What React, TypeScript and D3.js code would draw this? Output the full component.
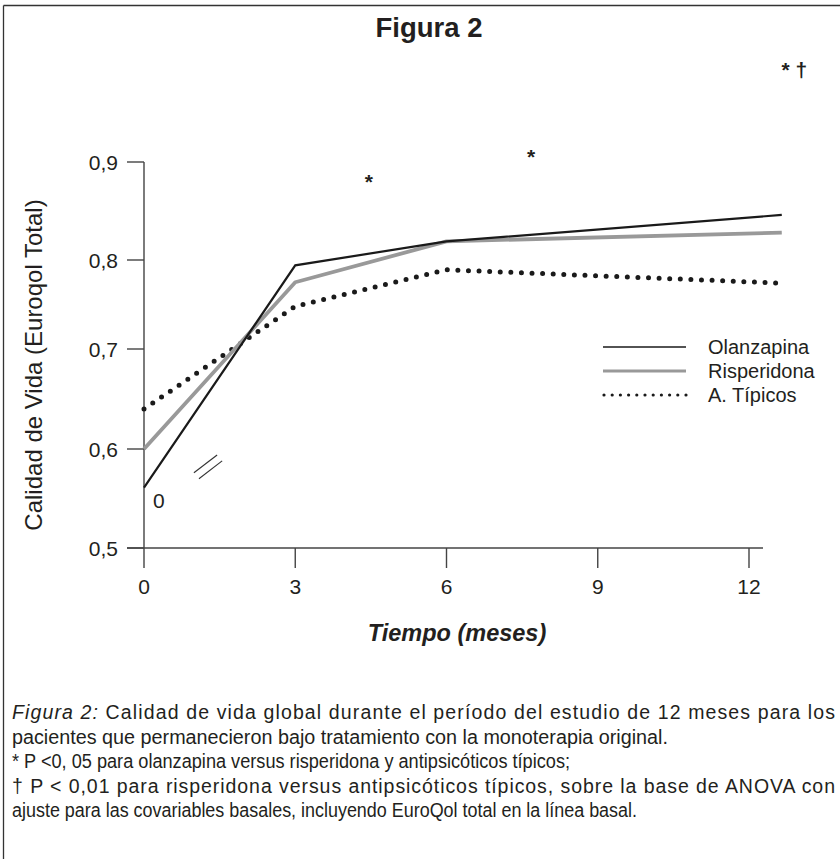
import React from "react";
import * as d3 from "d3";

const months = [0, 3, 6, 12.65];
const olanzapina = [0.561, 0.794, 0.819, 0.846];
const risperidona = [0.6, 0.775, 0.819, 0.828];
const tipicos = [0.64, 0.748, 0.789, 0.774];

const xTicks = [0, 3, 6, 9, 12];
const yTicks = [0.5, 0.6, 0.7, 0.8, 0.9];
const yTickLabels = ["0,5", "0,6", "0,7", "0,8", "0,9"];

const seriesNames = ["Olanzapina", "Risperidona", "A. Típicos"];

// annotations: [month, value]
const starMarks: [number, number, string][] = [
  [4.46, 0.872, "*"],
  [7.68, 0.898, "*"],
  [12.9, 0.987, "* †"],
];
const breakMarks: [number, number, number, number][] = [
  [0.99, 0.576, 1.45, 0.594],
  [1.09, 0.57, 1.55, 0.588],
];
const originLabel: [number, number, string] = [0.18, 0.54, "0"];

const captionLines = [
  "pacientes que permanecieron bajo tratamiento con la monoterapia original.",
  "* P <0, 05 para olanzapina versus risperidona y antipsicóticos típicos;",
  "† P < 0,01 para risperidona versus antipsicóticos típicos, sobre la base de ANOVA con",
  "ajuste para las covariables basales, incluyendo EuroQol total en la línea basal.",
];
const captionWidths = [656, 558, 823, 625];

const FONT = "'Liberation Sans', Arial, Helvetica, sans-serif";

export default function App() {
  const W = 840;
  const H = 859;
  const x = d3.scaleLinear().domain([0, 12]).range([144, 749]);
  const y = d3
    .scaleLinear()
    .domain([0.5, 0.6, 0.7, 0.8, 0.9])
    .range([548, 449, 349, 260, 162]);

  const line = d3
    .line<number>()
    .x((_, i) => x(months[i]))
    .y((d) => y(d));

  const axisColor = "#444";
  const textColor = "#231f20";

  return (
    <svg
      width={W}
      height={H}
      viewBox={`0 0 ${W} ${H}`}
      style={{ position: "absolute", left: 0, top: 0, background: "#fff" }}
      fontFamily={FONT}
    >
      <rect x={0} y={0} width={W} height={H} fill="#fff" />
      {/* frame */}
      <line x1={3.5} y1={5.5} x2={W} y2={5.5} stroke="#333" strokeWidth={1.3} />
      <line x1={3.5} y1={5.5} x2={3.5} y2={H} stroke="#333" strokeWidth={1.3} />

      {/* title */}
      <text x={429} y={37} textAnchor="middle" fontSize={27.5} fontWeight="bold" fill={textColor}>
        Figura 2
      </text>

      {/* y axis */}
      <line x1={x(0)} y1={y(0.5)} x2={x(0)} y2={y(0.9)} stroke={axisColor} strokeWidth={1.4} />
      {yTicks.map((t, i) => (
        <g key={"yt" + i}>
          <line x1={127} x2={x(0)} y1={y(t)} y2={y(t)} stroke={axisColor} strokeWidth={1.4} />
          <text x={118} y={y(t) + 7.5} textAnchor="end" fontSize={21} fill={textColor}>
            {yTickLabels[i]}
          </text>
        </g>
      ))}

      {/* x axis */}
      <line x1={127} y1={y(0.5)} x2={763} y2={y(0.5)} stroke={axisColor} strokeWidth={1.4} />
      {xTicks.map((t) => (
        <g key={"xt" + t}>
          <line x1={x(t)} x2={x(t)} y1={y(0.5)} y2={y(0.5) + 20} stroke={axisColor} strokeWidth={1.4} />
          <text x={x(t)} y={594} textAnchor="middle" fontSize={21} fill={textColor}>
            {t}
          </text>
        </g>
      ))}

      {/* axis labels */}
      <text
        x={457}
        y={641}
        textAnchor="middle"
        fontSize={23.5}
        fontWeight="bold"
        fontStyle="italic"
        fill={textColor}
      >
        Tiempo (meses)
      </text>
      <text
        transform={`translate(42, 365) rotate(-90)`}
        textAnchor="middle"
        fontSize={24}
        fill={textColor}
      >
        Calidad de Vida (Euroqol Total)
      </text>

      {/* series */}
      <path d={line(tipicos) || ""} fill="none" stroke="#1a1a1a" strokeWidth={5} strokeDasharray="0 10.6" strokeLinecap="round" />
      <path d={line(risperidona) || ""} fill="none" stroke="#999" strokeWidth={3.8} strokeLinejoin="round" />
      <path d={line(olanzapina) || ""} fill="none" stroke="#1a1a1a" strokeWidth={2.2} strokeLinejoin="miter" />

      {/* annotations */}
      {breakMarks.map((b, i) => (
        <line key={"bm" + i} x1={x(b[0])} y1={y(b[1])} x2={x(b[2])} y2={y(b[3])} stroke="#333" strokeWidth={1.1} />
      ))}
      <text x={x(originLabel[0])} y={y(originLabel[1])} fontSize={21} fill={textColor}>
        {originLabel[2]}
      </text>
      {starMarks.map((s, i) => (
        <text key={"st" + i} x={x(s[0])} y={y(s[1])} textAnchor="middle" fontSize={21} fontWeight="bold" fill={textColor}>
          {s[2]}
        </text>
      ))}

      {/* legend */}
      {seriesNames.map((name, i) => {
        const ly = 347 + i * 24;
        return (
          <g key={"lg" + i}>
            {i === 0 && <line x1={603} x2={686} y1={ly} y2={ly} stroke="#1a1a1a" strokeWidth={1.6} />}
            {i === 1 && <line x1={603} x2={686} y1={ly} y2={ly} stroke="#999" strokeWidth={3.2} />}
            {i === 2 && (
              <line x1={604} x2={686} y1={ly} y2={ly} stroke="#1a1a1a" strokeWidth={3.2} strokeDasharray="0 8.2" strokeLinecap="round" />
            )}
            <text x={708} y={ly + 7} fontSize={20} fill={textColor}>
              {name}
            </text>
          </g>
        );
      })}

      {/* caption */}
      <text x={12} y={719} fontSize={19.5} fill={textColor} textLength={823} lengthAdjust="spacing">
        <tspan fontStyle="italic">Figura 2:</tspan> Calidad de vida global durante el período del estudio de 12 meses para los
      </text>
      {captionLines.map((l, i) => (
        <text
          key={"cap" + i}
          x={12}
          y={744 + i * 24.4}
          fontSize={19.5}
          fill={textColor}
          textLength={captionWidths[i]}
          lengthAdjust={i === 2 ? "spacing" : "spacingAndGlyphs"}
        >
          {l}
        </text>
      ))}
    </svg>
  );
}
